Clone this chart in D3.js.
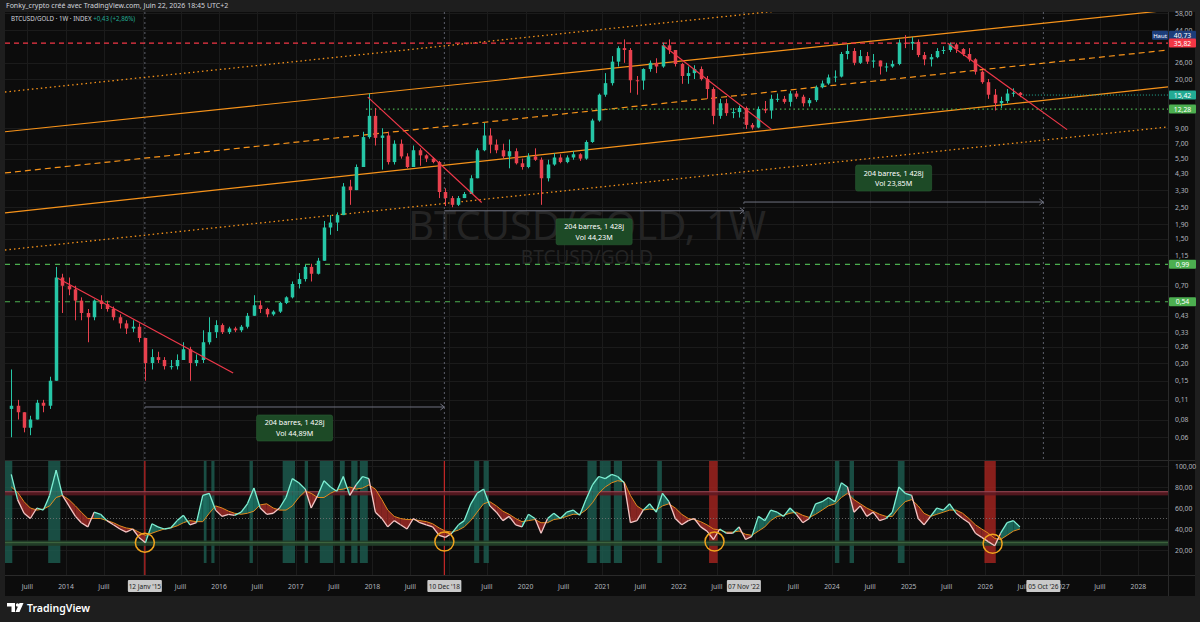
<!DOCTYPE html>
<html>
<head>
<meta charset="utf-8">
<script src="https://cdnjs.cloudflare.com/ajax/libs/d3/7.8.5/d3.min.js"></script>
<style>
  body { margin: 0; background: #1e1e1e; }
  svg text { font-family: "Noto Sans", "DejaVu Sans", sans-serif; }
</style>
</head>
<body>
<div id="chart"></div>
<script>
// BTCUSD/GOLD weekly chart, redrawn with monthly candles

var width = 1200, height = 622;

// ---- data (monthly, starting April 2013) ----
var firstMonth = '2013-04';
var closes = [
  0.10, 0.09, 0.07, 0.08, 0.105, 0.10, 0.15, 0.80, 0.70,
  0.66, 0.55, 0.45, 0.42, 0.55, 0.52, 0.48, 0.42, 0.38, 0.35, 0.36, 0.30,
  0.20, 0.22, 0.21, 0.19, 0.19, 0.21, 0.25, 0.20, 0.21, 0.28, 0.33, 0.37,
  0.33, 0.35, 0.34, 0.36, 0.43, 0.51, 0.48, 0.44, 0.46, 0.53, 0.58, 0.72,
  0.78, 0.95, 0.85, 1.05, 1.8, 1.95, 2.2, 3.5, 3.3, 4.8, 7.8, 11.0,
  7.7, 8.0, 5.2, 7.0, 5.7, 4.8, 6.3, 5.8, 5.5, 5.2, 3.2, 2.9,
  2.6, 2.9, 3.1, 4.0, 6.3, 8.0, 6.9, 6.3, 5.7, 6.2, 5.1, 4.8,
  5.7, 5.4, 4.0, 5.0, 5.6, 5.2, 5.6, 5.9, 5.5, 7.2, 10.2, 15.5,
  18.7, 26.5, 33, 32, 19.6, 19.5, 23.5, 26, 24.5, 34.5, 32, 25.5,
  21, 22, 23.5, 20, 17, 11, 13.5, 11.5, 11.7, 12.5, 9.5, 9.1,
  12.3, 12.0, 14.5, 14.5, 13.8, 15.8, 15, 13.5, 14.2, 17.5, 18.6, 20.5,
  20.8, 30, 31.5, 26, 29, 26.5, 27, 24.5, 24.5, 25.5, 36, 35.5,
  36.5, 29.5, 27.5, 28.5, 31.5, 32, 35, 32.5, 30, 27.5, 22.5, 19,
  15.5, 13.5, 14.0, 15.8, 16.0, 15.42
];
var highs = [
  0.18, 0.11, 0.09, 0.085, 0.11, 0.11, 0.16, 0.95, 0.85,
  0.80, 0.70, 0.58, 0.48, 0.56, 0.60, 0.55, 0.50, 0.44, 0.40, 0.40, 0.38,
  0.30, 0.25, 0.24, 0.22, 0.21, 0.23, 0.28, 0.26, 0.23, 0.34, 0.42, 0.40,
  0.38, 0.36, 0.36, 0.37, 0.45, 0.60, 0.55, 0.49, 0.47, 0.54, 0.59, 0.75,
  0.86, 0.98, 1.0, 1.1, 2.0, 2.2, 2.3, 3.7, 3.9, 5.0, 8.5, 15.8,
  12.5, 9.0, 8.5, 7.4, 7.5, 6.0, 6.8, 6.5, 5.9, 5.6, 5.3, 3.4,
  3.0, 3.0, 3.2, 4.2, 6.5, 9.8, 9.0, 7.5, 7.0, 7.5, 6.5, 5.5,
  6.0, 6.5, 5.6, 5.4, 6.0, 5.9, 5.8, 6.2, 6.0, 7.4, 10.5, 15.8,
  22, 29, 34, 38, 33, 21, 23.8, 27, 28, 36, 38, 32,
  26, 24.5, 25, 24.5, 21, 17.5, 14.5, 14.5, 12.5, 13, 12.8, 9.8,
  12.8, 14, 15.5, 15.8, 15.2, 16.5, 16.5, 15.5, 14.7, 18, 19.5, 21.5,
  23, 31, 35, 33, 32, 31, 30, 27, 26, 27, 38, 40.73,
  39.5, 38, 31, 30, 33, 34, 36, 36, 33, 33, 28, 23,
  20, 17, 15, 17, 17.2, 16.2
];
var lows = [
  0.06, 0.08, 0.065, 0.062, 0.08, 0.09, 0.095, 0.15, 0.45,
  0.60, 0.40, 0.40, 0.28, 0.40, 0.48, 0.46, 0.40, 0.35, 0.32, 0.33, 0.28,
  0.15, 0.18, 0.20, 0.18, 0.18, 0.18, 0.21, 0.15, 0.19, 0.20, 0.27, 0.30,
  0.32, 0.32, 0.33, 0.33, 0.35, 0.43, 0.45, 0.42, 0.43, 0.45, 0.52, 0.57,
  0.67, 0.75, 0.75, 0.84, 1.05, 1.6, 1.7, 2.2, 2.6, 3.3, 4.8, 7.6,
  6.8, 4.6, 5.0, 5.0, 5.5, 4.7, 4.8, 4.9, 5.2, 5.1, 2.9, 2.55,
  2.5, 2.55, 2.9, 3.1, 4.0, 6.2, 6.0, 6.0, 5.5, 4.7, 5.0, 4.6,
  4.7, 5.3, 2.6, 3.8, 4.9, 5.1, 5.1, 5.4, 5.3, 5.4, 7.1, 10.0,
  15, 18, 24.5, 26, 16, 15.5, 16.8, 22.5, 22, 24, 30, 24.5,
  18.5, 18.5, 20, 19.5, 14.5, 9.6, 10.5, 11, 10.6, 10.7, 8.9, 8.8,
  9.0, 11.5, 10.5, 13.8, 13.4, 12.8, 14.5, 12.8, 12.8, 13.8, 17.2, 18.2,
  19, 20.5, 27.5, 25, 25.5, 25.5, 24, 21.5, 22.5, 24, 25, 33,
  32, 28.5, 25, 24.5, 28, 30, 31, 30.5, 29, 26.5, 21.5, 18.5,
  14.5, 12.0, 12.5, 13.5, 15, 14.9
];
// oscillator (0-100) and its moving average
var osc = [
  92, 68, 55, 50, 60, 58, 72, 96, 72,
  62, 52, 46, 42, 56, 54, 48, 44, 40, 37, 40, 32,
  27, 45, 42, 40, 41, 48, 53, 44, 46, 72, 74, 58,
  52, 54, 53, 56, 64, 79, 60, 54, 55, 60, 70, 88,
  84, 78, 60, 72, 86, 80, 76, 90, 72, 82, 90, 88,
  56, 50, 42, 48, 44, 40, 50, 46, 44, 42, 34, 32,
  36, 44, 48, 64, 74, 78, 62, 56, 48, 52, 44, 42,
  54, 50, 36, 50, 55, 50, 56, 58, 53, 68, 82, 90,
  88, 92, 90, 84, 46, 48, 58, 64, 56, 74, 66, 50,
  44, 48, 50, 42, 38, 30, 40, 36, 36, 42, 30, 33,
  52, 48, 58, 56, 52, 60, 54, 46, 50, 64, 66, 70,
  66, 84, 80, 56, 62, 52, 56, 48, 50, 56, 80, 74,
  72, 50, 44, 52, 60, 58, 64, 55, 50, 46, 36, 32,
  28, 24, 36, 46, 48, 42
];
var oscMa = [
  80, 75, 66, 60, 58, 59, 62, 70, 72,
  68, 62, 56, 50, 50, 50, 48, 46, 43, 41, 40, 37,
  34, 36, 38, 40, 41, 43, 46, 48, 47, 47, 55, 62,
  60, 57, 55, 54, 55, 57, 63, 64, 60, 58, 58, 62,
  70, 76, 74, 70, 70, 74, 77, 78, 80, 78, 79, 82,
  78, 68, 58, 52, 50, 49, 49, 48, 47, 45, 41, 38,
  37, 39, 42, 48, 56, 64, 66, 62, 57, 54, 50, 47,
  48, 49, 46, 46, 49, 50, 52, 54, 54, 58, 65, 74,
  80, 84, 86, 85, 72, 62, 58, 59, 58, 62, 64, 60,
  54, 50, 49, 47, 44, 40, 39, 37, 37, 38, 35, 34,
  38, 42, 48, 52, 53, 55, 56, 53, 51, 54, 58, 62,
  64, 70, 74, 68, 64, 60, 57, 54, 52, 52, 60, 66,
  68, 62, 55, 52, 54, 56, 58, 58, 55, 50, 44, 40,
  36, 31, 30, 34, 38, 40
];
var tealBands = [
  ['2013-03-14', '2013-04-20'], ['2013-10-08', '2013-12-05'],
  ['2015-10-20', '2015-11-02'], ['2015-11-25', '2015-12-10'],
  ['2016-05-25', '2016-06-10'], ['2016-10-30', '2016-12-28'],
  ['2017-02-12', '2017-02-28'], ['2017-04-25', '2017-06-28'],
  ['2017-07-30', '2017-08-22'], ['2017-09-22', '2017-10-22'],
  ['2017-11-02', '2017-12-10'],
  ['2019-05-01', '2019-05-25'], ['2019-06-15', '2019-07-10'],
  ['2020-10-22', '2020-12-05'], ['2020-12-20', '2021-02-10'],
  ['2021-02-25', '2021-04-05'], ['2021-09-20', '2021-10-12'],
  ['2024-01-15', '2024-02-05'], ['2024-03-25', '2024-04-15'],
  ['2024-11-10', '2024-12-12']
];
var redBands = [['2022-05-25', '2022-07-05'], ['2025-12-28', '2026-02-20']];
var redMarks = ['2015-01-12', '2018-12-10'];
var circleDates = ['2015-01-12', '2018-12-10', '2022-06-20', '2026-02-05'];
var circleLevels = [27, 28, 28, 26];

// channel lines [date, price] -> [date, price]
var channel = [
  { a: ['2013-03-16', 16.2], b: ['2028-05-21', 117], dash: '1.5,3' },
  { a: ['2013-03-16', 8.5], b: ['2028-05-21', 61], dash: null },
  { a: ['2013-03-16', 4.36], b: ['2028-05-21', 32], dash: '6,4' },
  { a: ['2013-03-16', 2.28], b: ['2028-05-21', 17.6], dash: null },
  { a: ['2013-03-16', 1.25], b: ['2028-05-21', 9.19], dash: '1.5,3' }
];
var trendLines = [
  [['2013-11-23', 0.79], ['2016-03-08', 0.17]],
  [['2017-12-10', 14.9], ['2019-06-06', 2.7]],
  [['2021-10-16', 34.7], ['2023-03-20', 8.8]],
  [['2025-07-05', 35.8], ['2027-01-26', 8.8]]
];
var measures = [
  { from: '2015-01-12', to: '2018-12-10', level: 0.098, text: '204 barres, 1 428j', vol: 'Vol 44,89M', above: false },
  { from: '2018-12-10', to: '2022-11-07', level: 2.36, text: '204 barres, 1 428j', vol: 'Vol 44,23M', above: false },
  { from: '2022-11-07', to: '2026-10-05', level: 2.72, text: '204 barres, 1 428j', vol: 'Vol 23,85M', above: true }
];
var priceTicks = [58, 44, 26, 20, 9, 7, 5.5, 4.3, 3.3, 2.5, 1.9, 1.5, 1.15, 0.7, 0.43, 0.33, 0.26, 0.2, 0.15, 0.11, 0.08, 0.06];
var oscTicks = [100, 80, 60, 40, 20];
var years = d3.range(2013, 2029);
var marked = [['2015-01-12', "12 Janv '15"], ['2018-12-10', "10 Dec '18"], ['2022-11-07', "07 Nov '22"], ['2026-10-05', "05 Oct '26"]];
var levels = [
  { v: 35.82, color: '#f23645', dash: '5,4', from: null },
  { v: 12.28, color: '#4caf50', dash: '1.5,3', from: '2017-12-01' },
  { v: 0.99, color: '#4caf50', dash: '5,5', from: null },
  { v: 0.54, color: '#4caf50', dash: '5,5', from: null }
];
var tags = [
  { v: 40.73, text: '40,73', bg: '#1c3d7a' },
  { v: 35.82, text: '35,82', bg: '#f23645' },
  { v: 15.42, text: '15,42', bg: '#22ab94' },
  { v: 12.28, text: '12,28', bg: '#4caf50' },
  { v: 0.99, text: '0,99', bg: '#4caf50' },
  { v: 0.54, text: '0,54', bg: '#4caf50' }
];

// ---- layout ----
var L = 5, R = 1168, mTop = 12, mBot = 460, oTop = 461, oBot = 575, aBot = 596;
var parse = d3.timeParse('%Y-%m-%d');
var fmt = function(v) { return d3.format('.2f')(v).replace('.', ','); };

var x = d3.scaleTime()
  .domain([new Date(2014, 0, 1), new Date(2028, 0, 1)])
  .range([66, 66 + 14 * 76.6]);
var y = d3.scaleLog().domain([20, 0.2]).range([79, 363]);
var yo = d3.scaleLinear().domain([20, 100]).range([550, 466]);

var start = d3.timeParse('%Y-%m')(firstMonth);
var candles = closes.map(function(c, i) {
  var m = d3.timeMonth.offset(start, i);
  return {
    date: d3.timeDay.offset(m, 14),
    open: i === 0 ? 0.095 : closes[i - 1],
    close: c, high: highs[i], low: lows[i],
    osc: osc[i], ma: oscMa[i]
  };
});

var svg = d3.select('#chart').append('svg')
  .attr('width', width)
  .attr('height', height);

svg.append('rect').attr('width', width).attr('height', height).attr('fill', '#1e1e1e');
svg.append('rect').attr('x', L).attr('y', mTop).attr('width', 1195 - L).attr('height', aBot - mTop).attr('fill', '#0c0c0c');

var defs = svg.append('defs');
defs.append('clipPath').attr('id', 'clipMain').append('rect')
  .attr('x', L).attr('y', mTop).attr('width', R - L).attr('height', mBot - mTop);
defs.append('clipPath').attr('id', 'clipOsc').append('rect')
  .attr('x', L).attr('y', oTop).attr('width', R - L).attr('height', oBot - oTop);

// grid
var timeTicks = [];
years.forEach(function(yr) {
  timeTicks.push({ d: new Date(yr, 0, 1), label: String(yr) });
  timeTicks.push({ d: new Date(yr, 6, 1), label: 'Juill' });
});
timeTicks = timeTicks.filter(function(t) { return x(t.d) > L + 5 && x(t.d) < R - 5; });

var grid = svg.append('g').attr('stroke', '#1b1b1b').attr('stroke-width', 1);
grid.selectAll('.vg').data(timeTicks).enter().append('line')
  .attr('x1', function(t) { return Math.round(x(t.d)) + 0.5; })
  .attr('x2', function(t) { return Math.round(x(t.d)) + 0.5; })
  .attr('y1', mTop).attr('y2', oBot);
grid.selectAll('.hg').data(priceTicks).enter().append('line')
  .attr('x1', L).attr('x2', R)
  .attr('y1', function(v) { return Math.round(y(v)) + 0.5; })
  .attr('y2', function(v) { return Math.round(y(v)) + 0.5; });
grid.selectAll('.og').data(oscTicks).enter().append('line')
  .attr('x1', L).attr('x2', R)
  .attr('y1', function(v) { return Math.round(yo(v)) + 0.5; })
  .attr('y2', function(v) { return Math.round(yo(v)) + 0.5; });

// watermark
svg.append('text').attr('x', 587).attr('y', 240).attr('text-anchor', 'middle')
  .attr('font-size', 40).attr('fill', '#242424').text('BTCUSD/GOLD, 1W');
svg.append('text').attr('x', 587).attr('y', 264).attr('text-anchor', 'middle')
  .attr('font-size', 19).attr('fill', '#242424').text('BTCUSD/GOLD');

var main = svg.append('g').attr('clip-path', 'url(#clipMain)');

// vertical date markers
main.selectAll('.vm').data(marked).enter().append('line')
  .attr('x1', function(d) { return x(parse(d[0])); })
  .attr('x2', function(d) { return x(parse(d[0])); })
  .attr('y1', mTop).attr('y2', mBot)
  .attr('stroke', '#5d606b').attr('stroke-dasharray', '2,3').attr('stroke-width', 1);

// channel lines, extended over the pane
function extend(a, b) {
  var x1 = x(parse(a[0])), y1 = y(a[1]), x2 = x(parse(b[0])), y2 = y(b[1]);
  var s = (y2 - y1) / (x2 - x1);
  return [[L, y1 + s * (L - x1)], [R, y1 + s * (R - x1)]];
}
channel.forEach(function(c) {
  var p = extend(c.a, c.b);
  main.append('line')
    .attr('x1', p[0][0]).attr('y1', p[0][1]).attr('x2', p[1][0]).attr('y2', p[1][1])
    .attr('stroke', '#f7931a').attr('stroke-width', c.dash && c.dash[0] === '1' ? 1.3 : 1.2)
    .attr('stroke-dasharray', c.dash);
});

// horizontal levels
levels.forEach(function(l) {
  main.append('line')
    .attr('x1', l.from ? x(parse(l.from)) : L).attr('x2', R)
    .attr('y1', y(l.v)).attr('y2', y(l.v))
    .attr('stroke', l.color).attr('stroke-width', 1.2).attr('stroke-dasharray', l.dash);
});
main.append('line')
  .attr('x1', x(candles[candles.length - 1].date)).attr('x2', R)
  .attr('y1', y(15.42)).attr('y2', y(15.42))
  .attr('stroke', '#22ab94').attr('stroke-dasharray', '1,2');

// candles
var cw = 3.5;
var cg = main.append('g');
cg.selectAll('.wick').data(candles).enter().append('line')
  .attr('x1', function(d) { return Math.round(x(d.date)) + 0.5; })
  .attr('x2', function(d) { return Math.round(x(d.date)) + 0.5; })
  .attr('y1', function(d) { return y(d.high); })
  .attr('y2', function(d) { return y(d.low); })
  .attr('stroke', function(d) { return d.close >= d.open ? '#26c6a6' : '#e8414e'; });
cg.selectAll('.body').data(candles).enter().append('rect')
  .attr('x', function(d) { return Math.round(x(d.date)) - cw / 2 + 0.5; })
  .attr('width', cw)
  .attr('y', function(d) { return y(Math.max(d.open, d.close)); })
  .attr('height', function(d) { return Math.max(1, Math.abs(y(d.open) - y(d.close))); })
  .attr('fill', function(d) { return d.close >= d.open ? '#26c6a6' : '#e8414e'; });

// red trend lines
trendLines.forEach(function(t) {
  main.append('line')
    .attr('x1', x(parse(t[0][0]))).attr('y1', y(t[0][1]))
    .attr('x2', x(parse(t[1][0]))).attr('y2', y(t[1][1]))
    .attr('stroke', '#f0384a').attr('stroke-width', 1.2);
});

// date range measures
measures.forEach(function(m) {
  var x1 = x(parse(m.from)), x2 = x(parse(m.to)), ly = y(m.level);
  main.append('line').attr('x1', x1).attr('x2', x2).attr('y1', ly).attr('y2', ly)
    .attr('stroke', '#6f7280').attr('stroke-width', 1);
  main.append('path').attr('d', 'M' + (x2 - 4) + ',' + (ly - 3) + 'L' + x2 + ',' + ly + 'L' + (x2 - 4) + ',' + (ly + 3))
    .attr('fill', 'none').attr('stroke', '#6f7280');
  var cx = (x1 + x2) / 2, by = m.above ? ly - 37 : ly + 8;
  main.append('rect').attr('x', cx - 38).attr('y', by).attr('width', 76).attr('height', 26)
    .attr('rx', 2).attr('fill', '#1d4a26').attr('stroke', '#2a6034').attr('stroke-width', 0.6);
  main.append('text').attr('x', cx).attr('y', by + 10.5).attr('text-anchor', 'middle')
    .attr('font-size', 7.2).attr('fill', '#ffffff').text(m.text);
  main.append('text').attr('x', cx).attr('y', by + 21).attr('text-anchor', 'middle')
    .attr('font-size', 7.2).attr('fill', '#ffffff').text(m.vol);
});

// ---- oscillator pane ----
svg.append('line').attr('x1', L).attr('x2', 1195).attr('y1', mBot + 0.5).attr('y2', mBot + 0.5)
  .attr('stroke', '#2a2a2a');
var og = svg.append('g').attr('clip-path', 'url(#clipOsc)');
og.selectAll('.tb').data(tealBands).enter().append('rect')
  .attr('x', function(b) { return x(parse(b[0])); })
  .attr('width', function(b) { return x(parse(b[1])) - x(parse(b[0])); })
  .attr('y', oTop).attr('height', 102)
  .attr('fill', '#1d6355').attr('opacity', 0.75);
og.selectAll('.rb').data(redBands).enter().append('rect')
  .attr('x', function(b) { return x(parse(b[0])); })
  .attr('width', function(b) { return x(parse(b[1])) - x(parse(b[0])); })
  .attr('y', oTop).attr('height', 102)
  .attr('fill', '#a8241f').attr('opacity', 0.8);
og.selectAll('.rm').data(redMarks).enter().append('line')
  .attr('x1', function(d) { return x(parse(d)); }).attr('x2', function(d) { return x(parse(d)); })
  .attr('y1', oTop).attr('y2', oBot).attr('stroke', '#c62828').attr('stroke-width', 1.2);
// reference bands
og.append('rect').attr('x', L).attr('width', R - L).attr('y', yo(76)).attr('height', yo(72) - yo(76))
  .attr('fill', '#5e1a22').attr('opacity', 0.85);
og.append('line').attr('x1', L).attr('x2', R).attr('y1', yo(75.5)).attr('y2', yo(75.5))
  .attr('stroke', '#b86070').attr('stroke-width', 0.7);
og.append('rect').attr('x', L).attr('width', R - L).attr('y', yo(29)).attr('height', yo(24) - yo(29))
  .attr('fill', '#24402a').attr('opacity', 0.9);
og.append('line').attr('x1', L).attr('x2', R).attr('y1', yo(27)).attr('y2', yo(27))
  .attr('stroke', '#4f7a4a').attr('stroke-width', 0.7);
og.append('line').attr('x1', L).attr('x2', R).attr('y1', yo(50)).attr('y2', yo(50))
  .attr('stroke', '#777').attr('stroke-dasharray', '1,2').attr('stroke-width', 0.8);

// fill between oscillator and its average
for (var i = 0; i < candles.length - 1; i++) {
  var a = candles[i], b = candles[i + 1];
  var up = (a.osc - a.ma) + (b.osc - b.ma) >= 0;
  og.append('path')
    .attr('d', 'M' + x(a.date) + ',' + yo(a.osc) + 'L' + x(b.date) + ',' + yo(b.osc) +
      'L' + x(b.date) + ',' + yo(b.ma) + 'L' + x(a.date) + ',' + yo(a.ma) + 'Z')
    .attr('fill', up ? '#1d7566' : '#9c2a26').attr('opacity', 0.85);
}
og.append('path').datum(candles)
  .attr('d', d3.line().x(function(d) { return x(d.date); }).y(function(d) { return yo(d.ma); }))
  .attr('fill', 'none').attr('stroke', '#e08a1e').attr('stroke-width', 1);
for (var j = 0; j < candles.length - 1; j++) {
  var p = candles[j], q = candles[j + 1];
  og.append('line')
    .attr('x1', x(p.date)).attr('y1', yo(p.osc)).attr('x2', x(q.date)).attr('y2', yo(q.osc))
    .attr('stroke', (p.osc + q.osc) >= (p.ma + q.ma) ? '#7ff0d4' : '#f4c6c6')
    .attr('stroke-width', 1.3);
}
og.selectAll('.circ').data(circleDates).enter().append('circle')
  .attr('cx', function(d) { return x(parse(d)); })
  .attr('cy', function(d, i) { return yo(circleLevels[i]); })
  .attr('r', 9.5).attr('fill', 'none').attr('stroke', '#f0a41e').attr('stroke-width', 1.5);

svg.append('line').attr('x1', L).attr('x2', 1195).attr('y1', oBot + 0.5).attr('y2', oBot + 0.5)
  .attr('stroke', '#2a2a2a');

// ---- price axis ----
svg.append('line').attr('x1', R + 0.5).attr('x2', R + 0.5).attr('y1', mTop).attr('y2', aBot)
  .attr('stroke', '#2a2a2a');
svg.append('g').selectAll('text').data(priceTicks).enter().append('text')
  .attr('x', 1175).attr('y', function(v) { return y(v) + 2.5; })
  .attr('font-size', 6.8).attr('fill', '#b2b5be').text(fmt);
svg.append('g').selectAll('text').data(oscTicks).enter().append('text')
  .attr('x', 1175).attr('y', function(v) { return yo(v) + 2.5; })
  .attr('font-size', 6.8).attr('fill', '#b2b5be').text(fmt);

tags.forEach(function(t) {
  var ty = y(t.v);
  svg.append('rect').attr('x', R + 1).attr('y', ty - 4.5).attr('width', 27).attr('height', 9)
    .attr('rx', 1).attr('fill', t.bg);
  svg.append('text').attr('x', R + 14.5).attr('y', ty + 2.5).attr('text-anchor', 'middle')
    .attr('font-size', 6.8).attr('fill', '#ffffff').text(t.text);
});
svg.append('rect').attr('x', R - 16).attr('y', y(40.73) - 4.5).attr('width', 16).attr('height', 9)
  .attr('rx', 1).attr('fill', '#1c3d7a');
svg.append('text').attr('x', R - 8).attr('y', y(40.73) + 2.5).attr('text-anchor', 'middle')
  .attr('font-size', 6).attr('fill', '#ffffff').text('Haut');

// ---- time axis ----
var markedX = marked.map(function(m) { return x(parse(m[0])); });
var shownTicks = timeTicks.filter(function(t) {
  return markedX.every(function(mx) { return Math.abs(x(t.d) - mx) > 15; });
});
svg.append('g').selectAll('text').data(shownTicks).enter().append('text')
  .attr('x', function(t) { return x(t.d); }).attr('y', 589)
  .attr('text-anchor', 'middle').attr('font-size', 6.8).attr('fill', '#b2b5be')
  .text(function(t) { return t.label; });
marked.forEach(function(m, k) {
  var mx = markedX[k];
  svg.append('rect').attr('x', mx - 17).attr('y', 580).attr('width', 34).attr('height', 12)
    .attr('rx', 1).attr('fill', '#c9c9c9');
  svg.append('text').attr('x', mx).attr('y', 589).attr('text-anchor', 'middle')
    .attr('font-size', 6.5).attr('fill', '#222').text(m[1]);
});

// ---- header and footer ----
svg.append('text').attr('x', 6).attr('y', 8).attr('font-size', 7)
  .attr('fill', '#d1d4dc').text('Fonky_crypto créé avec TradingView.com, Juin 22, 2026 18:45 UTC+2');
var leg = svg.append('text').attr('x', 11).attr('y', 21).attr('font-size', 6.2).attr('fill', '#d1d4dc');
leg.append('tspan').text('BTCUSD/GOLD · 1W · INDEX ');
leg.append('tspan').attr('fill', '#22ab94').text(' +0,43 (+2,86%)');

var logo = svg.append('g').attr('fill', '#ffffff');
logo.append('path').attr('d', 'M7,603 h8 v9 h-3.5 v-5.5 h-4.5 Z');
logo.append('circle').attr('cx', 17.5).attr('cy', 605).attr('r', 1.7);
logo.append('path').attr('d', 'M19.5,603 h4 l-4,9 h-4 Z');
svg.append('text').attr('x', 27).attr('y', 612).attr('font-size', 10.5).attr('font-weight', 600)
  .attr('fill', '#ffffff').text('TradingView');
</script>
</body>
</html>
